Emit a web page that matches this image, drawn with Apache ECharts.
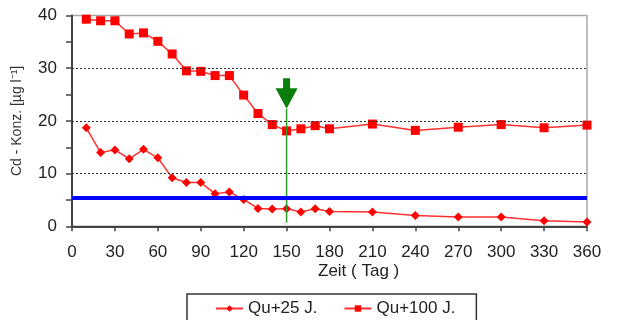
<!DOCTYPE html>
<html>
<head>
<meta charset="utf-8">
<script src="https://cdn.jsdelivr.net/npm/echarts@6/dist/echarts.min.js"></script>
<style>
  html, body { margin: 0; padding: 0; background: #fff; }
  #chart { width: 617px; height: 320px; }
</style>
</head>
<body>
<div id="chart"></div>
<script>
// Sampling days (Zeit in Tagen)
const days25 = [10, 20, 30, 40, 50, 60, 70, 80, 90, 100, 110, 120, 130, 140, 150, 160, 170, 180, 210, 240, 270, 300, 330, 360];
const days100 = [10, 20, 30, 40, 50, 60, 70, 80, 90, 100, 110, 120, 130, 140, 150, 160, 170, 180, 210, 240, 270, 300, 330, 360];

// Cd concentration [µg/l]
const qu25 = [18.7, 14.0, 14.5, 12.8, 14.6, 13.0, 9.2, 8.3, 8.3, 6.2, 6.5, 5.1, 3.4, 3.3, 3.35, 2.7, 3.35, 2.8, 2.7, 2.05, 1.75, 1.75, 1.05, 0.8];
const qu100 = [39.3, 39.0, 39.0, 36.5, 36.7, 35.1, 32.7, 29.5, 29.4, 28.6, 28.6, 24.9, 21.4, 19.3, 18.1, 18.5, 19.1, 18.5, 19.4, 18.2, 18.8, 19.3, 18.7, 19.2];

// Limit value (horizontal reference line)
const limitValue = 5.5;

// Dotted gridlines inside the plot
const gridValues = [10, 20, 30];

// Marker arrow at day 150: [day, top, neck, tip, lineEnd]
const arrowData = [[150, 28.1, 26.2, 22.3, 0.7]];

const seriesNames = ['Qu+25 J.', 'Qu+100 J.'];
const xTicks = { min: 0, max: 360, interval: 30 };
const yTicks = { min: 0, max: 40, interval: 10 };

const toPairs = (xs, ys) => xs.map((x, i) => [x, ys[i]]);

const chart = echarts.init(document.getElementById('chart'), null, { renderer: 'canvas' });

const FONT = '"Liberation Sans", Arial, sans-serif';
const RED = '#ff0000';

chart.setOption({
  animation: false,
  textStyle: { fontFamily: FONT },
  title: {
    text: 'Zeit ( Tag )',
    left: 318,
    top: 263,
    padding: 0,
    textStyle: { fontFamily: FONT, fontSize: 17, fontWeight: 'normal', color: '#222' }
  },
  grid: {
    left: 72, right: 30, top: 15.5, bottom: 93.7,
    show: true,
    borderColor: '#a8a8a8',
    borderWidth: 1.5
  },
  legend: {
    data: seriesNames,
    left: 187,
    top: 294,
    padding: [6, 21, 20, 28],
    itemGap: 26,
    itemWidth: 27,
    itemHeight: 8,
    borderColor: '#333',
    borderWidth: 1.5,
    textStyle: { fontFamily: FONT, fontSize: 17, color: '#222' }
  },
  xAxis: {
    type: 'value',
    min: xTicks.min, max: xTicks.max, interval: xTicks.interval,
    axisLine: { show: true, lineStyle: { color: '#444', width: 2 } },
    axisTick: { show: true, inside: false, length: 5, lineStyle: { color: '#444', width: 1.5 } },
    axisLabel: { fontSize: 17, color: '#222', margin: 18, fontFamily: FONT },
    splitLine: { show: false }
  },
  yAxis: {
    type: 'value',
    min: yTicks.min, max: yTicks.max, interval: yTicks.interval,
    name: 'Cd - Konz. [µg l⁻¹]',
    nameLocation: 'middle',
    nameGap: 48,
    nameTextStyle: { fontSize: 14, color: '#333', fontFamily: FONT },
    axisLine: { show: true, lineStyle: { color: '#444', width: 2 } },
    axisTick: { show: true, inside: false, length: 6, lineStyle: { color: '#444', width: 1.5 } },
    minorTick: { show: true, splitNumber: 2, length: 6, lineStyle: { color: '#444', width: 1.5 } },
    axisLabel: { fontSize: 17, color: '#222', margin: 15, fontFamily: FONT },
    splitLine: { show: false }
  },
  series: [
    {
      name: seriesNames[0],
      type: 'line',
      data: toPairs(days25, qu25),
      symbol: 'diamond',
      symbolSize: 9,
      itemStyle: { color: RED },
      lineStyle: { color: '#ff3030', width: 1.5 },
      z: 3,
      markLine: {
        silent: true,
        symbol: 'none',
        label: { show: false },
        data: gridValues.map(v => ({
          yAxis: v,
          lineStyle: { color: '#333', width: 1, type: [2, 2] }
        })).concat([{
          yAxis: limitValue,
          lineStyle: { color: '#0000ff', width: 4, type: 'solid' }
        }])
      }
    },
    {
      name: seriesNames[1],
      type: 'line',
      data: toPairs(days100, qu100),
      symbol: 'rect',
      symbolSize: 9,
      itemStyle: { color: RED },
      lineStyle: { color: '#ff3030', width: 1.5 },
      z: 3
    },
    {
      type: 'custom',
      name: 'arrow',
      data: arrowData,
      z: 4,
      renderItem: function (params, api) {
        const x = api.value(0);
        const pTop = api.coord([x, api.value(1)]);
        const pNeck = api.coord([x, api.value(2)]);
        const pTip = api.coord([x, api.value(3)]);
        const pEnd = api.coord([x, api.value(4)]);
        const shaftHalf = 3.5, headHalf = 11;
        const cx = pTop[0];
        return {
          type: 'group',
          children: [
            {
              type: 'line',
              shape: { x1: cx, y1: pTip[1], x2: cx, y2: pEnd[1] },
              style: { stroke: '#2a9a2a', lineWidth: 1.5 }
            },
            {
              type: 'polygon',
              shape: {
                points: [
                  [cx - shaftHalf, pTop[1]], [cx + shaftHalf, pTop[1]],
                  [cx + shaftHalf, pNeck[1]], [cx + headHalf, pNeck[1]],
                  [cx, pTip[1]],
                  [cx - headHalf, pNeck[1]], [cx - shaftHalf, pNeck[1]]
                ]
              },
              style: { fill: '#0a7d0a' }
            }
          ]
        };
      }
    }
  ]
});
</script>
</body>
</html>
